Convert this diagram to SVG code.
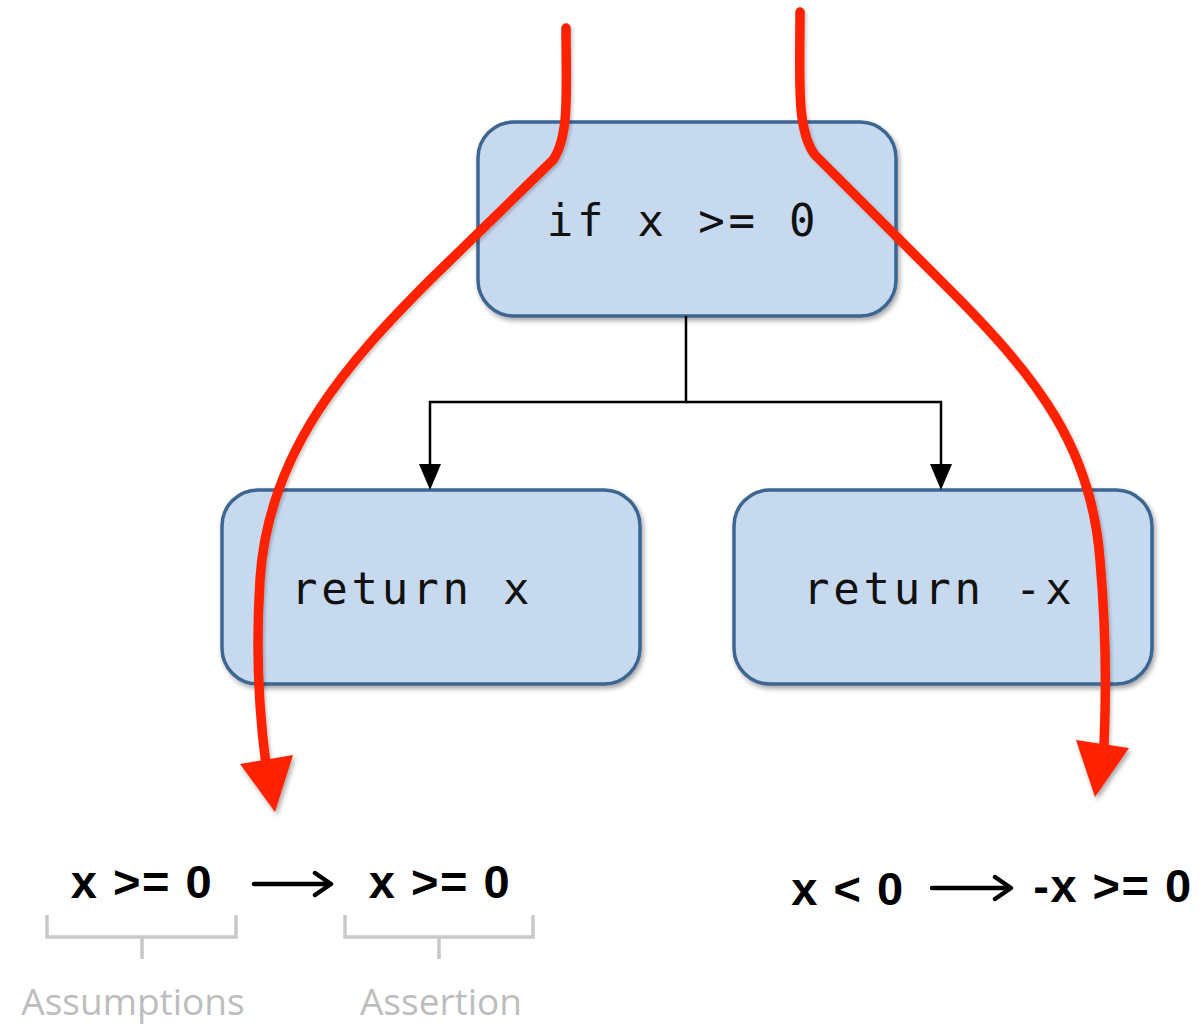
<svg xmlns="http://www.w3.org/2000/svg" width="1202" height="1024" viewBox="0 0 1202 1024">
<style>
.box{fill:#c6d9ef;stroke:#3d6592;stroke-width:3.5;filter:url(#sh)}
.code{font-family:"DejaVu Sans Mono",monospace;font-size:44px;letter-spacing:3.8px;fill:#111}
.conn{fill:none;stroke:#000;stroke-width:2.5}
.red{fill:none;stroke:#ff2200;stroke-width:9.5;stroke-linecap:round;stroke-linejoin:round;filter:url(#sh2)}
.redhead{fill:#ff2200;filter:url(#sh)}
.formula{font-family:"Liberation Sans",Arial,sans-serif;font-weight:bold;font-size:47px;letter-spacing:1.5px;fill:#000}
.imp{fill:none;stroke:#000;stroke-width:4.5;stroke-linecap:round;stroke-linejoin:round}
.brk{fill:none;stroke:#c8c8c8;stroke-width:3.5}
.lbl{font-family:"Open Sans","DejaVu Sans",sans-serif;font-size:37px;fill:#bdbdbd}
</style>
<defs>
<filter id="sh" x="-10%" y="-10%" width="130%" height="130%">
<feDropShadow dx="2" dy="3" stdDeviation="2.5" flood-color="#000" flood-opacity="0.35"/>
</filter>
<filter id="sh2" x="-10%" y="-10%" width="130%" height="130%">
<feDropShadow dx="2" dy="2" stdDeviation="1.5" flood-color="#000" flood-opacity="0.2"/>
</filter>
</defs>
<g id="node-if">
<rect class="box" x="478" y="122" width="418" height="194" rx="36"/>
<text class="code" x="683" y="236" text-anchor="middle">if x &gt;= 0</text>
</g>
<g id="node-return-x">
<rect class="box" x="222" y="490" width="418" height="194" rx="36"/>
<text class="code" x="291" y="604">return x</text>
</g>
<g id="node-return-neg-x">
<rect class="box" x="734" y="490" width="418" height="194" rx="36"/>
<text class="code" x="803" y="604">return -x</text>
</g>
<g id="connectors">
<path class="conn" d="M686,316 V402 H430 V468"/>
<path class="conn" d="M686,402 H941 V468"/>
<path d="M419,464 L441,464 L430,490 z" fill="#000"/>
<path d="M930,464 L952,464 L941,490 z" fill="#000"/>
</g>
<g id="red-paths">
<path class="red" d="M566,28 C566,90 570,135 553,160 L430,280 C350,360 268,450 260,580 C255,660 260,720 266,765"/>
<path class="redhead" d="M240,764 L293,755 L275,812 z"/>
<path class="red" d="M800,12 C800,80 796,130 815,155 L950,290 C1040,380 1092,450 1100,560 C1107,640 1106,700 1104,745"/>
<path class="redhead" d="M1076,740 L1129,748 L1095,797 z"/>
</g>
<g id="formula-left">
<text class="formula" x="142" y="898" text-anchor="middle">x &gt;= 0</text>
<path class="imp" d="M254,884 H330 M315,873 L331,884 L315,895"/>
<text class="formula" x="440" y="898" text-anchor="middle">x &gt;= 0</text>
</g>
<g id="formula-right">
<text class="formula" x="848" y="905" text-anchor="middle">x &lt; 0</text>
<path class="imp" d="M932,888 H1010 M995,877 L1011,888 L995,899"/>
<text class="formula" x="1113" y="902" text-anchor="middle">-x &gt;= 0</text>
</g>
<g id="brackets">
<path class="brk" d="M47,915 V937 H236 V915 M142,937 V959"/>
<path class="brk" d="M345,915 V937 H533 V915 M439,937 V959"/>
<text class="lbl" x="133" y="1015" text-anchor="middle">Assumptions</text>
<text class="lbl" x="441" y="1015" text-anchor="middle">Assertion</text>
</g>
</svg>
